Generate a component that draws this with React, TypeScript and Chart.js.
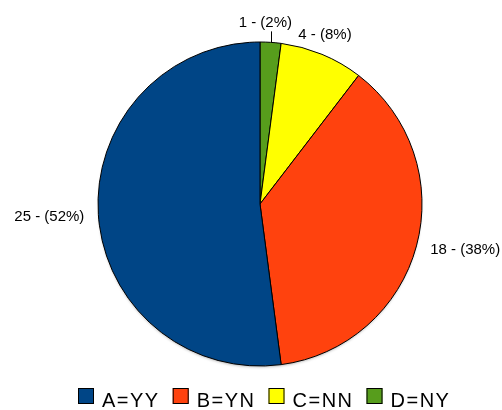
import React, { useEffect, useRef } from "react";
import { Chart, registerables } from "chart.js";

Chart.register(...registerables);

// Categories in legend order
const categories = ["A=YY", "B=YN", "C=NN", "D=NY"];
const values = [25, 18, 4, 1];
const colors = ["#004586", "#ff420e", "#ffff00", "#579d1c"];

const total = values.reduce((a, b) => a + b, 0);
const sliceLabels = values.map((v) => `${v} - (${Math.round((v / total) * 100)}%)`);

// Pie is drawn clockwise from 12 o'clock starting with the last category
const drawOrder = [3, 2, 1, 0];

const labelPlugin = {
  id: "sliceLabels",
  beforeDatasetsDraw(chart: any) {
    const meta = chart.getDatasetMeta(0);
    const arc = meta.data[0];
    if (!arc) return;
    const { x, y, outerRadius } = arc.getProps(["x", "y", "outerRadius"], true);
    const ctx = chart.ctx;
    ctx.save();
    ctx.shadowColor = "rgba(0,0,0,0.35)";
    ctx.shadowBlur = 3;
    ctx.shadowOffsetY = 2;
    ctx.fillStyle = "#000";
    ctx.beginPath();
    ctx.arc(x, y, outerRadius - 1, 0, Math.PI * 2);
    ctx.fill();
    ctx.restore();
  },
  afterDatasetsDraw(chart: any) {
    const ctx = chart.ctx;
    const meta = chart.getDatasetMeta(0);
    const ds = chart.data.datasets[0];
    ctx.save();
    ctx.font = '15px "Liberation Sans", Arial, sans-serif';
    ctx.fillStyle = "#000";
    ctx.strokeStyle = "#000";
    ctx.lineWidth = 1;
    meta.data.forEach((arc: any, i: number) => {
      const { x, y, startAngle, endAngle, outerRadius } = arc.getProps(
        ["x", "y", "startAngle", "endAngle", "outerRadius"],
        true
      );
      const mid = (startAngle + endAngle) / 2;
      const c = Math.cos(mid);
      const s = Math.sin(mid);
      const frac = ds.data[i] / total;
      const text = ds.labelTexts[i];
      if (frac < 0.05) {
        const r1 = outerRadius;
        const r2 = outerRadius + 11;
        const ax = x + r2 * c;
        const ay = y + r2 * s;
        ctx.beginPath();
        ctx.moveTo(Math.round(x + r1 * c) + 0.5, y + r1 * s);
        ctx.lineTo(Math.round(ax) + 0.5, ay);
        ctx.stroke();
        ctx.textAlign = "center";
        ctx.textBaseline = "alphabetic";
        ctx.fillText(text, ax - 6, ay - 4);
      } else if (Math.abs(c) < 0.5) {
        const r2 = outerRadius + 13;
        const ax = x + r2 * c;
        const ay = y + r2 * s;
        ctx.textAlign = "center";
        if (s < 0) {
          ctx.textBaseline = "alphabetic";
          ctx.fillText(text, ax - 2, ay - 3);
        } else {
          ctx.textBaseline = "top";
          ctx.fillText(text, ax, ay + 3);
        }
      } else {
        const r2 = outerRadius + 10;
        const ax = x + r2 * c;
        const ay = y + r2 * s;
        ctx.textBaseline = "middle";
        if (c > 0) {
          ctx.textAlign = "left";
          ctx.fillText(text, ax + 4, ay + 1);
        } else {
          ctx.textAlign = "right";
          ctx.fillText(text, ax - 4, ay + 2);
        }
      }
    });
    ctx.restore();
  },
  afterDraw(chart: any) {
    const ctx = chart.ctx;
    ctx.save();
    ctx.font = '20px "Liberation Sans", Arial, sans-serif';
    (ctx as any).letterSpacing = "1.5px";
    const box = 16;
    const gapText = 8;
    const gapItem = 13;
    const widths = categories.map((c) => ctx.measureText(c).width);
    const totalW =
      widths.reduce((a, w) => a + box + gapText + w, 0) + gapItem * (categories.length - 1);
    let xPos = Math.round(264 - totalW / 2);
    const boxY = 388;
    const baseY = 407;
    categories.forEach((cat, i) => {
      ctx.fillStyle = colors[i];
      ctx.fillRect(xPos, boxY, box, box);
      ctx.strokeStyle = "#000";
      ctx.lineWidth = 1;
      ctx.strokeRect(xPos + 0.5, boxY + 0.5, box - 1, box - 1);
      ctx.fillStyle = "#000";
      ctx.textAlign = "left";
      ctx.textBaseline = "alphabetic";
      ctx.fillText(cat, xPos + box + gapText, baseY);
      xPos += box + gapText + widths[i] + gapItem;
    });
    ctx.restore();
  },
};

export default function App() {
  const ref = useRef<HTMLCanvasElement>(null);
  useEffect(() => {
    document.body.style.margin = "0";
    const canvas = ref.current;
    if (!canvas) return;
    const chart = new Chart(canvas, {
      type: "pie",
      data: {
        labels: drawOrder.map((i) => categories[i]),
        datasets: [
          {
            data: drawOrder.map((i) => values[i]),
            backgroundColor: drawOrder.map((i) => colors[i]),
            borderColor: "#000",
            borderWidth: 1,
            radius: 162,
            labelTexts: drawOrder.map((i) => sliceLabels[i]),
          } as any,
        ],
      },
      options: {
        responsive: false,
        animation: false,
        devicePixelRatio: 1,
        layout: { padding: { left: 18, right: 0, top: 0, bottom: 2 } },
        plugins: {
          legend: { display: false },
          tooltip: { enabled: false },
        },
      },
      plugins: [labelPlugin],
    });
    return () => chart.destroy();
  }, []);
  return (
    <div style={{ position: "absolute", left: 0, top: 0, width: 502, height: 410, background: "#fff" }}>
      <canvas ref={ref} width={502} height={410} />
    </div>
  );
}
